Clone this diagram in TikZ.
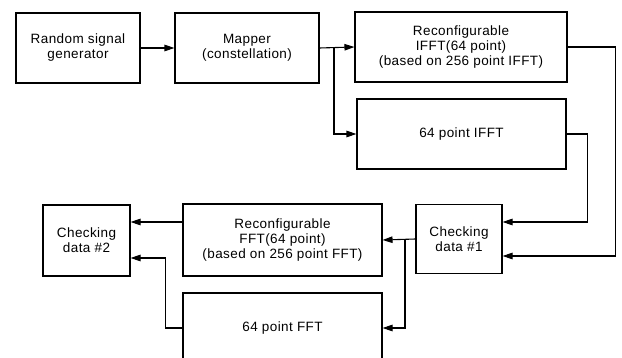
\documentclass[tikz,border=0pt]{standalone}
\usepackage{fontspec}
\setmainfont[LetterSpace=3]{Liberation Sans}
\usetikzlibrary{arrows.meta,calc}
\begin{document}
\begin{tikzpicture}[x=1pt,y=-1pt,
  box/.style={draw,line width=1.1pt,inner sep=0pt,align=center,
    font=\fontsize{13.5}{15}\selectfont},
  arr/.style={line width=1.1pt,-{Triangle[length=10pt,width=6.5pt]}},
  ln/.style={line width=1.1pt}]
\useasboundingbox (0,0) rectangle (622,358);
\node[box,minimum width=124pt,minimum height=70pt] (gen) at (78,48) {Random signal\\generator};
\node[box,minimum width=144pt,minimum height=70pt] (map) at (247,48) {Mapper\\(constellation)};
\node[box,minimum width=212pt,minimum height=70pt] (rifft) at (461,47) {Reconfigurable\\IFFT(64 point)\\(based on 256 point IFFT)};
\node[box,minimum width=209pt,minimum height=70pt] (ifft) at (461.5,134) {64 point IFFT};
\node[box,minimum width=86pt,minimum height=69pt] (chk1) at (459,239) {Checking\\data \#1};
\node[box,minimum width=199pt,minimum height=72pt] (rfft) at (282.5,240) {Reconfigurable\\FFT(64 point)\\(based on 256 point FFT)};
\node[box,minimum width=199pt,minimum height=70pt] (fft) at (282.5,328) {64 point FFT};
\node[box,minimum width=87pt,minimum height=71pt] (chk2) at (86.5,240.5) {Checking\\data \#2};
\coordinate (b1) at (334,47);
\coordinate (b2) at (405,239);
\draw[arr] (gen.east) -- (map.west);
\draw[arr] (map.east) -- (rifft.west);
\draw[arr] (b1) |- (ifft.west);
\draw[arr] (rifft.east) -- ++(48,0) |- ([yshift=-17pt]chk1.east);
\draw[arr] (ifft.east) -- ++(21,0) |- ([yshift=17pt]chk1.east);
\draw[arr] (chk1.west) -- (rfft.east);
\draw[arr] (b2) |- (fft.east);
\draw[arr] ([yshift=18pt]rfft.west) -- ([yshift=18.5pt]chk2.east);
\draw[arr] (fft.west) -- ++(-17,0) |- ([yshift=-17.5pt]chk2.east);
\end{tikzpicture}
\end{document}
